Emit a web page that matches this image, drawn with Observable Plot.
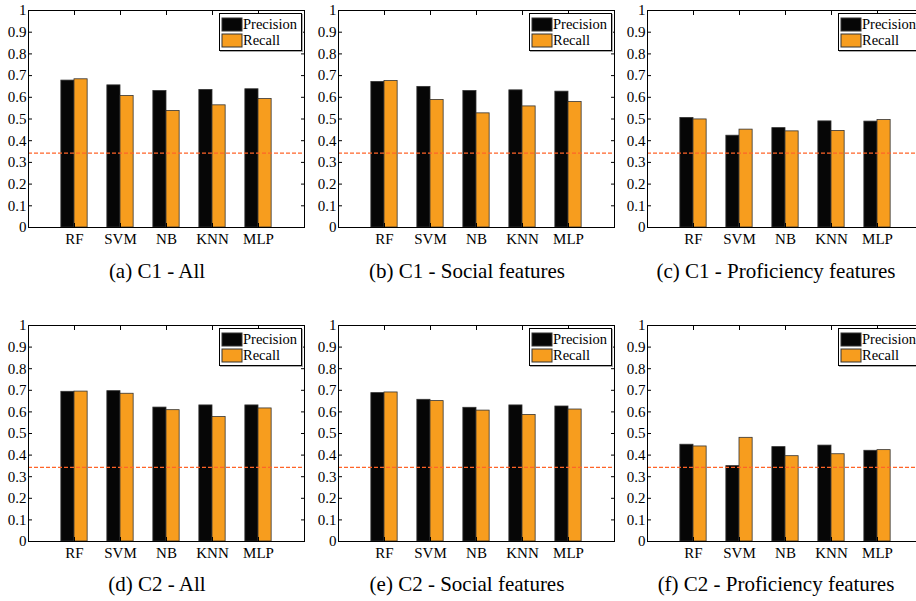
<!DOCTYPE html>
<html>
<head>
<meta charset="utf-8">
<script src="https://cdn.jsdelivr.net/npm/d3@7"></script>
<script src="https://cdn.jsdelivr.net/npm/@observablehq/plot@0.6"></script>
<style>
  body { margin: 0; background: #fff; }
  #fig { position: relative; width: 916px; height: 601px; overflow: hidden; background: #fff;
         font-family: "Liberation Serif", "Times New Roman", serif; color: #000; }
  .panel { position: absolute; }
  .panel svg { overflow: visible; max-width: none !important; font-family: "Liberation Serif", "Times New Roman", serif; }
  .cap { position: absolute; width: 400px; text-align: center; font-size: 21px; line-height: 1; white-space: nowrap; }
  .lgbox { position: absolute; box-sizing: border-box; width: 83px; height: 38px; border: 1px solid #000;
           background: #fff; padding: 2px 0 0 2px; overflow: hidden; box-shadow: 1px 1px 0 #aaa; }
  .lgbox .lg-swatches { font-family: "Liberation Serif", "Times New Roman", serif; font-size: 14.5px;
           color: #000; margin: 0; columns: 1; }
  .lgbox .lg-swatch { display: flex; align-items: center; height: 16.6px; padding: 0; margin: 0; }
  .lgbox .lg-swatch > svg { margin-right: 1px; overflow: visible; }
  .lgbox .lg-swatch > svg rect { stroke: #333; stroke-width: 1; }
</style>
</head>
<body>
<div id="fig"></div>
<script>
// ---- data ----
const categories = ["RF", "SVM", "NB", "KNN", "MLP"];
const seriesNames = ["Precision", "Recall"];
const seriesColors = ["#060606", "#f79d1e"];
const yTicks = [0, 0.1, 0.2, 0.3, 0.4, 0.5, 0.6, 0.7, 0.8, 0.9, 1];
const xTicks = [1, 2, 3, 4, 5];
const baseline = 0.343;
const panelTitles = [
  "(a) C1 - All", "(b) C1 - Social features", "(c) C1 - Proficiency features",
  "(d) C2 - All", "(e) C2 - Social features", "(f) C2 - Proficiency features"
];
const precisionA = [0.677, 0.655, 0.629, 0.634, 0.637];
const recallA    = [0.683, 0.606, 0.537, 0.563, 0.592];
const precisionB = [0.671, 0.648, 0.629, 0.632, 0.626];
const recallB    = [0.675, 0.588, 0.526, 0.558, 0.578];
const precisionC = [0.505, 0.423, 0.458, 0.489, 0.488];
const recallC    = [0.498, 0.451, 0.443, 0.445, 0.495];
const precisionD = [0.693, 0.696, 0.620, 0.630, 0.630];
const recallD    = [0.694, 0.684, 0.608, 0.576, 0.616];
const precisionE = [0.687, 0.656, 0.619, 0.630, 0.625];
const recallE    = [0.690, 0.650, 0.606, 0.586, 0.611];
const precisionF = [0.448, 0.349, 0.437, 0.444, 0.420];
const recallF    = [0.440, 0.480, 0.395, 0.404, 0.423];

const panelData = [
  [precisionA, recallA], [precisionB, recallB], [precisionC, recallC],
  [precisionD, recallD], [precisionE, recallE], [precisionF, recallF]
];

// ---- layout ----
const plotLefts = [28, 338, 647];
const plotTops = [10, 325];
const plotHeights = [217, 216];
const W = 276;
const mL = 30, mR = 12, mT = 10, mB = 32;
const barW = 0.2857;

const fig = document.getElementById("fig");

panelData.forEach(([prec, rec], k) => {
  const col = k % 3, row = Math.floor(k / 3);
  const H = plotHeights[row];
  const rows = categories.flatMap((c, i) => [
    {cat: c, pos: i + 1, series: seriesNames[0], value: prec[i]},
    {cat: c, pos: i + 1, series: seriesNames[1], value: rec[i]}
  ]);
  const chart = Plot.plot({
    width: mL + W + mR,
    height: mT + H + mB,
    marginLeft: mL, marginRight: mR, marginTop: mT, marginBottom: mB,
    style: {fontFamily: '"Liberation Serif", "Times New Roman", serif', fontSize: "15px",
            background: "transparent", color: "#000"},
    x: {domain: [0, 6]},
    y: {domain: [0, 1]},
    color: {domain: seriesNames, range: seriesColors},
    marks: [
      Plot.rect(rows, {
        x1: d => d.series === seriesNames[0] ? d.pos - barW : d.pos,
        x2: d => d.series === seriesNames[0] ? d.pos : d.pos + barW,
        y1: 0, y2: "value", fill: "series", stroke: "#333", strokeWidth: 0.8
      }),
      Plot.ruleY([baseline], {stroke: "#ff6428", strokeWidth: 1.3, strokeDasharray: "4,2"}),
      Plot.frame({stroke: "#000", strokeWidth: 1}),
      Plot.axisY(yTicks, {anchor: "left", tickSize: -4, fill: "none", label: null}),
      Plot.axisY(yTicks, {anchor: "right", tickSize: -4, fill: "none", label: null}),
      Plot.axisY(yTicks, {anchor: "left", tickSize: 0, tickPadding: 2, stroke: "none",
                          tickFormat: d => String(d), label: null, fontSize: 15}),
      Plot.axisX(xTicks, {anchor: "bottom", tickSize: -4, fill: "none", label: null}),
      Plot.axisX(xTicks, {anchor: "top", tickSize: -4, fill: "none", label: null}),
      Plot.axisX(xTicks, {anchor: "bottom", tickSize: 0, tickPadding: 6, stroke: "none",
                          tickFormat: i => categories[i - 1], label: null, fontSize: 15})
    ]
  });
  const wrap = document.createElement("div");
  wrap.className = "panel";
  wrap.style.left = (plotLefts[col] - mL) + "px";
  wrap.style.top = (plotTops[row] - mT) + "px";
  wrap.style.width = (mL + W + mR) + "px";
  wrap.style.height = (mT + H + mB) + "px";
  wrap.appendChild(chart);
  fig.appendChild(wrap);

  // legend
  const lg = document.createElement("div");
  lg.className = "lgbox";
  lg.style.left = (plotLefts[col] + 191) + "px";
  lg.style.top = (plotTops[row] + 3) + "px";
  lg.appendChild(Plot.legend({
    color: {domain: seriesNames, range: seriesColors},
    legend: "swatches", columns: 1, swatchWidth: 20, swatchHeight: 13, className: "lg"
  }));
  fig.appendChild(lg);

  // caption
  const cap = document.createElement("div");
  cap.className = "cap";
  cap.textContent = panelTitles[k];
  cap.style.left = (plotLefts[col] + W / 2 - 9 - 200) + "px";
  cap.style.top = (row === 0 ? 260.5 : 574) + "px";
  fig.appendChild(cap);
});
</script>
</body>
</html>
